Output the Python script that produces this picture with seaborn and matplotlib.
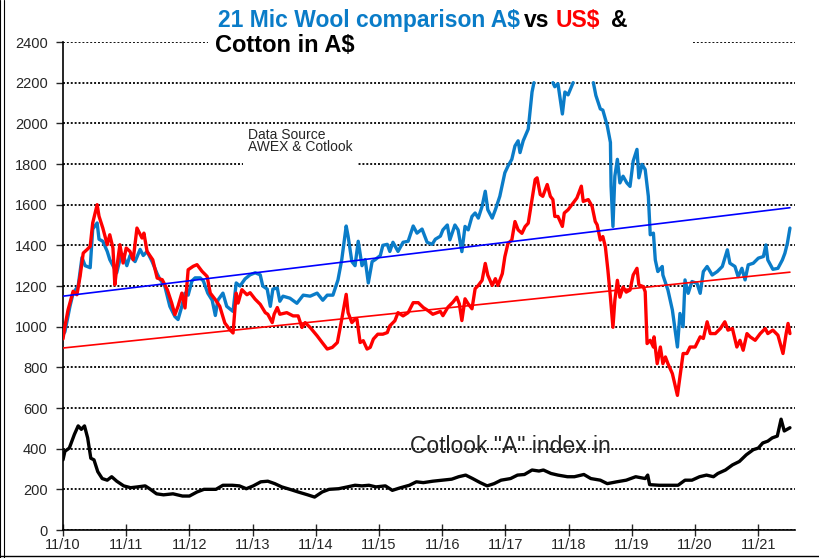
import numpy as np
import pandas as pd
import matplotlib
matplotlib.use("Agg")
import matplotlib.pyplot as plt
from matplotlib.patches import Rectangle
from matplotlib.lines import Line2D
import matplotlib.transforms as mtransforms
import seaborn as sns

# time axis: years since Nov 2010 (tick "11/10" = 0)
tick_labels = ["11/10", "11/11", "11/12", "11/13", "11/14", "11/15",
               "11/16", "11/17", "11/18", "11/19", "11/20", "11/21"]

# 21 micron wool in A$ (line is lost above 2200 in the original)
wool_aud_t = [0.00, 0.03, 0.11, 0.16, 0.24, 0.30, 0.35, 0.43, 0.47, 0.54,
              0.57, 0.63, 0.70, 0.74, 0.79, 0.85, 0.90, 0.95, 1.01, 1.06,
              1.14, 1.22, 1.27, 1.33, 1.41, 1.49, 1.53, 1.61, 1.69, 1.77,
              1.82, 1.88, 1.93, 1.98, 2.04, 2.09, 2.17, 2.22, 2.29, 2.36,
              2.41, 2.45, 2.53, 2.59, 2.69, 2.74, 2.80, 2.88, 2.96, 3.04,
              3.12, 3.16, 3.23, 3.28, 3.32, 3.39, 3.43, 3.48, 3.59, 3.70,
              3.80, 3.91, 4.02, 4.11, 4.18, 4.27, 4.35, 4.41, 4.48, 4.51,
              4.57, 4.62, 4.67, 4.73, 4.78, 4.83, 4.89, 4.94, 5.02, 5.06,
              5.13, 5.17, 5.22, 5.30, 5.38, 5.46, 5.54, 5.60, 5.68, 5.76,
              5.84, 5.89, 5.97, 6.01, 6.08, 6.12, 6.20, 6.25, 6.31, 6.36,
              6.41, 6.47, 6.52, 6.57, 6.63, 6.68, 6.72, 6.79, 6.84, 6.91,
              6.99, 7.04, 7.10, 7.15, 7.20, 7.23, 7.28, 7.36, 7.42, 7.45,
              7.60, 7.75, 7.78, 7.83, 7.90, 7.94, 7.99, 8.07, 8.20, 8.39,
              8.43, 8.50, 8.54, 8.61, 8.66, 8.67, 8.70, 8.73, 8.77, 8.81,
              8.86, 8.92, 8.97, 9.02, 9.08, 9.11, 9.16, 9.21, 9.26, 9.29,
              9.34, 9.37, 9.41, 9.48, 9.49, 9.57, 9.64, 9.72, 9.76, 9.81,
              9.84, 9.89, 9.95, 10.03, 10.08, 10.13, 10.19, 10.27, 10.35, 10.43,
              10.51, 10.55, 10.63, 10.68, 10.74, 10.79, 10.84, 10.92, 11.00, 11.08,
              11.12, 11.15, 11.23, 11.31, 11.38, 11.42, 11.46, 11.50]
wool_aud = [960, 975, 1100, 1165, 1200, 1340, 1300, 1290, 1480, 1510,
            1430, 1420, 1370, 1330, 1300, 1265, 1330, 1355, 1300, 1350,
            1320, 1380, 1350, 1370, 1320, 1260, 1235, 1200, 1100, 1050,
            1035, 1100, 1165, 1155, 1225, 1240, 1240, 1225, 1165, 1130,
            1055, 1130, 1165, 1100, 1075, 1215, 1200, 1235, 1255, 1265,
            1255, 1200, 1185, 1100, 1185, 1190, 1125, 1150, 1140, 1115,
            1155, 1150, 1165, 1130, 1155, 1155, 1230, 1330, 1495, 1445,
            1320, 1300, 1420, 1300, 1330, 1215, 1320, 1330, 1350, 1400,
            1405, 1370, 1415, 1370, 1415, 1420, 1495, 1460, 1480, 1415,
            1405, 1430, 1445, 1476, 1500, 1427, 1500, 1476, 1369, 1493,
            1476, 1542, 1559, 1534, 1592, 1666, 1575, 1534, 1575, 1641,
            1757, 1790, 1823, 1889, 1914, 1856, 1914, 1972, 2154, 2200,
            np.nan, 2200, 2180, 2195, 2046, 2154, 2140, 2200, np.nan, 2200,
            2137, 2071, 2065, 1988, 1906, 1691, 1493, 1740, 1823, 1707,
            1740, 1707, 1690, 1814, 1872, 1732, 1798, 1773, 1641, 1452,
            1460, 1328, 1271, 1296, 1254, 1180, 1082, 900, 1065, 1000,
            1230, 1164, 1222, 1213, 1164, 1271, 1296, 1254, 1271, 1296,
            1378, 1312, 1296, 1246, 1287, 1230, 1304, 1312, 1337, 1345,
            1402, 1328, 1282, 1287, 1328, 1361, 1411, 1485]

# 21 micron wool in US$
wool_usd_t = [0.00, 0.03, 0.08, 0.16, 0.22, 0.27, 0.32, 0.38, 0.43, 0.47,
              0.54, 0.57, 0.63, 0.70, 0.74, 0.79, 0.82, 0.85, 0.90, 0.95,
              1.00, 1.06, 1.11, 1.17, 1.25, 1.28, 1.33, 1.42, 1.49, 1.57,
              1.65, 1.72, 1.77, 1.82, 1.88, 1.93, 1.98, 2.06, 2.12, 2.20,
              2.28, 2.33, 2.41, 2.48, 2.56, 2.64, 2.69, 2.74, 2.77, 2.83,
              2.91, 2.96, 3.04, 3.12, 3.20, 3.24, 3.31, 3.34, 3.39, 3.43,
              3.54, 3.64, 3.72, 3.78, 3.83, 3.91, 4.02, 4.10, 4.18, 4.26,
              4.34, 4.41, 4.48, 4.51, 4.57, 4.62, 4.65, 4.70, 4.75, 4.81,
              4.86, 4.91, 4.98, 5.06, 5.13, 5.17, 5.25, 5.30, 5.38, 5.46,
              5.54, 5.62, 5.70, 5.78, 5.85, 5.97, 6.01, 6.09, 6.17, 6.23,
              6.27, 6.31, 6.36, 6.41, 6.47, 6.52, 6.57, 6.63, 6.68, 6.72,
              6.79, 6.84, 6.88, 6.95, 6.99, 7.04, 7.10, 7.15, 7.20, 7.26,
              7.31, 7.36, 7.42, 7.47, 7.50, 7.55, 7.59, 7.66, 7.71, 7.75,
              7.78, 7.83, 7.90, 7.93, 7.99, 8.07, 8.13, 8.20, 8.23, 8.31,
              8.37, 8.42, 8.45, 8.50, 8.54, 8.58, 8.62, 8.66, 8.70, 8.73,
              8.77, 8.81, 8.86, 8.91, 8.97, 9.02, 9.08, 9.11, 9.18, 9.21,
              9.24, 9.29, 9.34, 9.35, 9.40, 9.45, 9.49, 9.53, 9.57, 9.64,
              9.72, 9.76, 9.81, 9.87, 9.92, 10.00, 10.08, 10.13, 10.19, 10.24,
              10.32, 10.40, 10.47, 10.52, 10.59, 10.66, 10.71, 10.76, 10.82, 10.87,
              10.95, 11.03, 11.11, 11.15, 11.23, 11.31, 11.39, 11.44, 11.47, 11.50]
wool_usd = [940, 1001, 1083, 1174, 1157, 1247, 1362, 1379, 1395, 1510,
            1600, 1543, 1485, 1403, 1452, 1387, 1206, 1288, 1403, 1313,
            1387, 1370, 1329, 1485, 1436, 1460, 1370, 1329, 1239, 1231,
            1182, 1116, 1059, 1100, 1165, 1092, 1280, 1297, 1305, 1272,
            1247, 1165, 1133, 1100, 1018, 985, 969, 1165, 1116, 1182,
            1157, 1167, 1135, 1110, 1069, 1061, 1020, 1061, 1094, 1061,
            1069, 1053, 1053, 996, 1020, 996, 955, 922, 890, 898,
            922, 1037, 1159, 1069, 1020, 1037, 1037, 922, 931, 890,
            898, 939, 963, 963, 971, 1004, 1029, 1069, 1053, 1069,
            1118, 1118, 1094, 1078, 1061, 1075, 1054, 1096, 1121, 1145,
            1112, 1030, 1137, 1112, 1088, 1187, 1203, 1228, 1311, 1253,
            1203, 1236, 1203, 1261, 1344, 1410, 1426, 1517, 1476, 1459,
            1492, 1509, 1625, 1724, 1732, 1650, 1641, 1699, 1641, 1625,
            1542, 1542, 1493, 1559, 1575, 1608, 1633, 1691, 1616, 1625,
            1592, 1517, 1501, 1426, 1443, 1393, 1278, 1145, 997, 1129,
            1228, 1145, 1195, 1170, 1180, 1254, 1287, 1205, 1197, 1172,
            917, 933, 900, 950, 818, 900, 818, 851, 818, 769,
            662, 752, 868, 868, 900, 900, 950, 942, 1024, 966,
            966, 991, 1024, 983, 991, 900, 933, 884, 966, 950,
            933, 966, 991, 966, 983, 958, 868, 966, 1016, 966]

# Cotlook "A" index in A$
cotton_t = [0.00, 0.03, 0.10, 0.18, 0.24, 0.29, 0.34, 0.39, 0.44, 0.49,
            0.55, 0.62, 0.70, 0.77, 0.85, 0.96, 1.07, 1.18, 1.30, 1.37,
            1.48, 1.59, 1.74, 1.89, 2.00, 2.12, 2.23, 2.42, 2.53, 2.68,
            2.79, 2.90, 3.01, 3.13, 3.24, 3.35, 3.46, 3.61, 3.72, 3.87,
            3.98, 4.10, 4.21, 4.36, 4.50, 4.62, 4.73, 4.84, 4.95, 5.10,
            5.21, 5.33, 5.48, 5.59, 5.70, 5.85, 6.00, 6.15, 6.26, 6.37,
            6.48, 6.60, 6.71, 6.82, 6.93, 7.08, 7.19, 7.30, 7.42, 7.53,
            7.60, 7.72, 7.83, 7.98, 8.09, 8.24, 8.35, 8.50, 8.61, 8.76,
            8.91, 9.06, 9.21, 9.25, 9.28, 9.43, 9.58, 9.73, 9.84, 9.95,
            10.07, 10.18, 10.29, 10.36, 10.48, 10.59, 10.70, 10.81, 10.92, 11.00,
            11.07, 11.15, 11.22, 11.30, 11.36, 11.41, 11.50]
cotton_aud = [345, 387, 403, 470, 512, 495, 512, 453, 353, 345,
              287, 253, 245, 262, 240, 217, 208, 212, 217, 203,
              178, 173, 178, 167, 167, 187, 200, 200, 220, 220,
              217, 203, 217, 237, 240, 228, 212, 198, 187, 173,
              162, 187, 200, 203, 212, 220, 217, 220, 212, 217,
              195, 207, 220, 237, 233, 240, 245, 250, 262, 270,
              253, 233, 217, 228, 245, 253, 270, 273, 295, 290,
              295, 278, 270, 262, 262, 273, 253, 245, 228, 237,
              245, 262, 253, 270, 223, 220, 220, 220, 245, 245,
              262, 270, 262, 278, 295, 320, 337, 370, 395, 403,
              428, 437, 453, 462, 545, 487, 503]

# linear trend end points
trend_t = [0.0, 11.5]
trend_aud = [1150, 1585]
trend_usd = [895, 1268]

BLUE = "#0A7CC8"
RED = "#FF0000"

sns.set_style("white")
plt.rcParams["font.family"] = ["Liberation Sans", "DejaVu Sans"]

fig = plt.figure(figsize=(8.19, 5.58), dpi=100)
ax = fig.add_axes([63 / 819, 1 - 530 / 558, (795 - 63) / 819, (530 - 42) / 558])

# A$ wool, broken where it runs off the top
wool = pd.DataFrame({"t": wool_aud_t, "v": wool_aud})
wool["seg"] = wool["v"].isna().cumsum()
wool = wool.dropna()
sns.lineplot(data=wool, x="t", y="v", units="seg", estimator=None,
             color=BLUE, lw=2.4, ax=ax, zorder=2)
sns.lineplot(x=wool_usd_t, y=wool_usd, estimator=None, color=RED, lw=2.4, ax=ax, zorder=3)
sns.lineplot(x=cotton_t, y=cotton_aud, estimator=None, color="black", lw=2.4, ax=ax, zorder=3)
sns.lineplot(x=trend_t, y=trend_usd, estimator=None, color=RED, lw=1.2, ax=ax, zorder=4)
sns.lineplot(x=trend_t, y=trend_aud, estimator=None, color="#0000FF", lw=1.2, ax=ax, zorder=4)

ax.set_xlim(0, 11.58)
ax.set_ylim(0, 2400)
ax.set_xticks(range(len(tick_labels)))
ax.set_xticklabels(tick_labels)
ax.set_yticks(range(0, 2401, 200))
ax.set_xlabel("")
ax.set_ylabel("")
ax.set_axisbelow(True)
ax.yaxis.grid(True, color="#111111", ls=(0, (1, 1)), lw=1.4)
ax.xaxis.grid(False)
for side in ["top", "right"]:
    ax.spines[side].set_visible(False)
for side in ["left", "bottom"]:
    ax.spines[side].set_color("black")
    ax.spines[side].set_linewidth(1.2)
ax.tick_params(axis="y", direction="out", length=5, width=1, labelsize=10.5, pad=6, left=True)
ax.tick_params(axis="x", direction="inout", length=9, width=1, labelsize=10.5, pad=1, bottom=True)

# title on a white box
ax.add_patch(Rectangle((208 / 819, 1 - 57 / 558), (692 - 208) / 819, 57 / 558,
                       transform=fig.transFigure, facecolor="white", edgecolor="none",
                       clip_on=False, zorder=5))
tkw = dict(fontsize=16.5, fontweight="bold", zorder=6, annotation_clip=False)
t1 = ax.text(218 / 819, 1 - 27 / 558, "21 Mic Wool comparison A$", transform=fig.transFigure,
             color=BLUE, fontsize=16.5, fontweight="bold", va="baseline", zorder=6, clip_on=False)
t2 = ax.annotate("vs", xy=(1, 0), xycoords=t1, xytext=(3, 0), textcoords="offset points",
                 va="bottom", color="black", **tkw)
t3 = ax.annotate("US$", xy=(1, 0), xycoords=t2, xytext=(4, 0), textcoords="offset points",
                 va="bottom", color=RED, **tkw)
ax.annotate("&", xy=(1, 0), xycoords=t3, xytext=(8, 0), textcoords="offset points",
            va="bottom", color="black", **tkw)
ax.text(215 / 819, 1 - 52 / 558, "Cotton in A$", transform=fig.transFigure,
        color="black", fontsize=17, fontweight="bold", va="baseline", zorder=6, clip_on=False)

# data source note
blend = mtransforms.blended_transform_factory(ax.transAxes, ax.transData)
ax.add_patch(Rectangle((0.246, 1785), 0.156, 195, transform=blend,
                       facecolor="white", edgecolor="none", zorder=5))
ax.text(0.253, 1978, "Data Source\nAWEX & Cotlook", transform=blend, va="top",
        fontsize=10, linespacing=0.8, zorder=6)

ax.text(0.474, 380, 'Cotlook "A" index in', transform=blend, va="baseline",
        fontsize=16.5, zorder=6)

# outer frame remnants
for xf in (0.0006, 0.0045):
    fig.add_artist(Line2D([xf, xf], [0, 1], transform=fig.transFigure, color="black", lw=0.8))
fig.add_artist(Line2D([0, 1], [0.0036, 0.0036], transform=fig.transFigure, color="black", lw=1.0))

fig.savefig("out.png", dpi=100)
